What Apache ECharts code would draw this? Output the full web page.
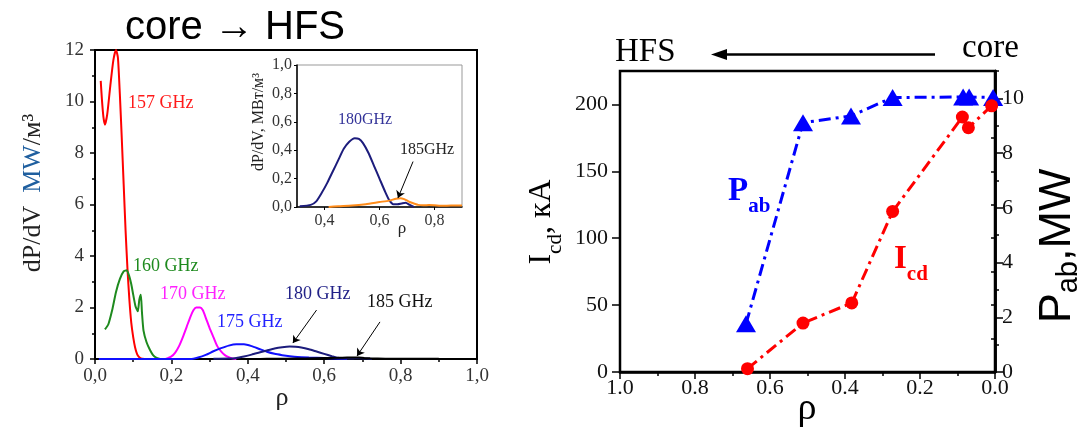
<!DOCTYPE html>
<html lang="en">
<head>
<meta charset="UTF-8">
<title>ECRH deposition profiles and current drive</title>
<script src="https://cdn.jsdelivr.net/npm/echarts@6/dist/echarts.min.js"></script>
<style>
    html, body { margin: 0; padding: 0; background: #fff; }
    #chart { width: 1086px; height: 430px; }
</style>
</head>
<body>
<div id="chart"></div>
<script>
// left panel: dP/dV profiles (MW/m3) vs rho, one pair of arrays per frequency
var rho157 = [0.015, 0.018, 0.022, 0.026, 0.032, 0.04, 0.048, 0.055, 0.06, 0.065, 0.07, 0.075, 0.08, 0.085, 0.09, 0.095, 0.1, 0.105, 0.11, 0.115, 0.12, 0.13];
var p157 = [10.8, 10.1, 9.4, 9.1, 9.5, 10.6, 11.6, 12.0, 11.7, 10.3, 8.6, 6.8, 5.0, 3.5, 2.3, 1.4, 0.85, 0.45, 0.2, 0.08, 0.02, 0];

var rho160 = [0.026, 0.035, 0.045, 0.055, 0.065, 0.075, 0.083, 0.09, 0.095, 0.1, 0.106, 0.112, 0.116, 0.12, 0.123, 0.127, 0.135, 0.144, 0.152, 0.16, 0.17];
var p160 = [1.15, 1.35, 1.9, 2.6, 3.1, 3.4, 3.45, 3.2, 2.9, 2.5, 2.05, 1.85, 2.3, 2.5, 1.8, 1.1, 0.65, 0.35, 0.15, 0.05, 0];

var rho170 = [0.185, 0.2, 0.21, 0.22, 0.23, 0.24, 0.25, 0.258, 0.265, 0.275, 0.282, 0.29, 0.3, 0.31, 0.32, 0.33, 0.34, 0.35, 0.36, 0.37];
var p170 = [0, 0.1, 0.25, 0.5, 0.85, 1.25, 1.65, 1.9, 2.0, 2.0, 1.9, 1.6, 1.2, 0.85, 0.5, 0.3, 0.15, 0.07, 0.02, 0];

var rho175 = [0.01, 0.25, 0.27, 0.29, 0.31, 0.33, 0.35, 0.37, 0.39, 0.41, 0.43, 0.45, 0.47, 0.49, 0.51, 0.53, 0.56, 0.6, 0.63, 0.66];
var p175 = [0, 0, 0.06, 0.16, 0.3, 0.42, 0.52, 0.57, 0.57, 0.5, 0.39, 0.28, 0.2, 0.15, 0.11, 0.08, 0.06, 0.04, 0.02, 0];

var rho180 = [0.31, 0.35, 0.37, 0.39, 0.41, 0.43, 0.45, 0.47, 0.49, 0.51, 0.525, 0.54, 0.56, 0.58, 0.6, 0.62, 0.635, 0.65, 0.665, 0.68, 0.695, 0.71, 0.725];
var p180 = [0.005, 0.015, 0.04, 0.1, 0.17, 0.25, 0.33, 0.41, 0.46, 0.485, 0.48, 0.45, 0.38, 0.29, 0.2, 0.11, 0.05, 0.02, 0.02, 0.025, 0.03, 0.015, 0];

var rho185 = [0.415, 0.45, 0.5, 0.55, 0.6, 0.635, 0.66, 0.676, 0.69, 0.705, 0.72, 0.74, 0.76, 0.78, 0.8, 0.83, 0.86, 0.9];
var p185 = [0, 0.005, 0.01, 0.02, 0.035, 0.045, 0.058, 0.062, 0.055, 0.04, 0.028, 0.015, 0.012, 0.014, 0.012, 0.008, 0.01, 0.01];

// right panel: absorbed power (MW) and driven current (kA) vs deposition rho
var rhoPab = [0.664, 0.512, 0.384, 0.273, 0.085, 0.069, 0.005];
var pab = [1.76, 9.11, 9.36, 10.03, 10.05, 10.05, 10.03];
var rhoIcd = [0.66, 0.512, 0.382, 0.273, 0.087, 0.071, 0.009];
var icd = [2.5, 36.6, 51.6, 120, 190.6, 182.6, 199];

// tick labels
var insetRhoTicks = [0.4, 0.6, 0.8];
var icdTicks = [0, 50, 100, 150, 200];
var pabTicks = [0, 2, 4, 6, 8, 10];

var SERIF = '"Liberation Serif", "DejaVu Serif", serif';
var SANS = '"Liberation Sans", Arial, sans-serif';

function pairs(xs, ys) {
    return xs.map(function (x, i) { return [x, ys[i]]; });
}
function comma(v) { return v.toFixed(1).replace('.', ','); }

function txt(x, y, text, size, color, extra) {
    var el = {
        type: 'text', x: x, y: y, z: 50,
        style: { text: text, fontSize: size, fontFamily: SERIF, fill: color, align: 'left', verticalAlign: 'middle' }
    };
    if (extra) {
        for (var k in extra) {
            if (k === 'style') { for (var s in extra.style) el.style[s] = extra.style[s]; }
            else el[k] = extra[k];
        }
    }
    return el;
}

var arrowLine = { symbol: ['none', 'arrow'], symbolSize: 7, silent: true, animation: false,
    label: { show: false }, lineStyle: { color: '#000', width: 1, type: 'solid' } };

function curve(name, xs, ys, color, xi, yi, mark) {
    var s = {
        name: name, type: 'line', xAxisIndex: xi, yAxisIndex: yi,
        data: pairs(xs, ys), showSymbol: false, smooth: 0.2, clip: true,
        lineStyle: { color: color, width: 2 }, itemStyle: { color: color }
    };
    if (mark) {
        var m = {};
        for (var k in arrowLine) m[k] = arrowLine[k];
        m.data = [[{ coord: mark[0] }, { coord: mark[1] }]];
        s.markLine = m;
    }
    return s;
}

var chart = echarts.init(document.getElementById('chart'));
var option = {
    animation: false,
    grid: [
        { left: 95, top: 50, width: 382, height: 309, show: true, borderColor: '#000', borderWidth: 2 },
        { left: 297, top: 65, width: 165, height: 142, show: true, borderColor: '#999', borderWidth: 1 },
        { left: 620, top: 71, width: 375, height: 301, show: true, borderColor: '#000', borderWidth: 2.5 }
    ],
    xAxis: [
        {
            gridIndex: 0, type: 'value', min: 0, max: 1, interval: 0.2,
            axisLine: { lineStyle: { color: '#000', width: 2 } },
            axisTick: { inside: false, length: 5, lineStyle: { color: '#000', width: 1.5 } },
            minorTick: { show: true, splitNumber: 2, length: 3, lineStyle: { color: '#000', width: 1.5 } },
            axisLabel: { formatter: comma, fontFamily: SERIF, fontSize: 19, color: '#333', margin: 8 },
            splitLine: { show: false }
        },
        {
            gridIndex: 1, type: 'value', min: 0.3, max: 0.9,
            axisLine: { lineStyle: { color: '#000', width: 1.5 } },
            axisTick: { customValues: insetRhoTicks, length: 3, lineStyle: { color: '#000' } },
            axisLabel: { customValues: insetRhoTicks, formatter: comma, fontFamily: SERIF, fontSize: 16, color: '#333', margin: 6 },
            splitLine: { show: false }
        },
        {
            gridIndex: 2, type: 'value', min: 0, max: 1, interval: 0.2, inverse: true,
            axisLine: { lineStyle: { color: '#000', width: 2.5 } },
            axisTick: { length: 7, lineStyle: { color: '#000', width: 1.5 } },
            minorTick: { show: true, splitNumber: 2, length: 4, lineStyle: { color: '#000', width: 1.5 } },
            axisLabel: { formatter: function (v) { return v.toFixed(1); }, fontFamily: SERIF, fontSize: 22, color: '#111', margin: 5 },
            splitLine: { show: false }
        }
    ],
    yAxis: [
        {
            gridIndex: 0, type: 'value', min: 0, max: 12, interval: 2,
            axisLine: { show: true, lineStyle: { color: '#000', width: 2 } },
            axisTick: { show: true, length: 5, lineStyle: { color: '#000', width: 1.5 } },
            minorTick: { show: true, splitNumber: 2, length: 3, lineStyle: { color: '#000', width: 1.5 } },
            axisLabel: { fontFamily: SERIF, fontSize: 19, color: '#333', margin: 11 },
            splitLine: { show: false }
        },
        {
            gridIndex: 1, type: 'value', min: 0, max: 1, interval: 0.2,
            axisLine: { show: true, lineStyle: { color: '#000', width: 1.5 } },
            axisTick: { show: true, length: 3, lineStyle: { color: '#000' } },
            axisLabel: { formatter: comma, fontFamily: SERIF, fontSize: 16, color: '#333', margin: 5 },
            splitLine: { show: false }
        },
        // right panel, left side: minor ticks every 25 kA
        {
            gridIndex: 2, type: 'value', min: 0, max: 225, interval: 25, position: 'left',
            axisLine: { show: true, lineStyle: { color: '#000', width: 2.5 } },
            axisTick: { show: true, length: 4, lineStyle: { color: '#000', width: 1.5 } },
            axisLabel: { show: false }, splitLine: { show: false }
        },
        // right panel, left side: labelled ticks
        {
            gridIndex: 2, type: 'value', min: 0, max: 225, position: 'left',
            axisLine: { show: false },
            axisTick: { show: true, customValues: icdTicks, length: 8, lineStyle: { color: '#000', width: 1.5 } },
            axisLabel: { customValues: icdTicks, fontFamily: SERIF, fontSize: 22, color: '#111', margin: 12 },
            splitLine: { show: false }
        },
        // right panel, right side: minor ticks every 1 MW
        {
            gridIndex: 2, type: 'value', min: 0, max: 11, interval: 1, position: 'right',
            axisLine: { show: true, lineStyle: { color: '#000', width: 2.5 } },
            axisTick: { show: true, length: 4, lineStyle: { color: '#000', width: 1.5 } },
            axisLabel: { show: false }, splitLine: { show: false }
        },
        {
            gridIndex: 2, type: 'value', min: 0, max: 11, position: 'right',
            axisLine: { show: false },
            axisTick: { show: true, customValues: pabTicks, length: 8, lineStyle: { color: '#000', width: 1.5 } },
            axisLabel: { customValues: pabTicks, fontFamily: SERIF, fontSize: 22, color: '#111', margin: 7 },
            splitLine: { show: false }
        }
    ],
    series: [
        curve('157 GHz', rho157, p157, '#ff0000', 0, 0),
        curve('160 GHz', rho160, p160, '#1e8a1e', 0, 0),
        curve('170 GHz', rho170, p170, '#ff00ff', 0, 0),
        curve('175 GHz', rho175, p175, '#1010ff', 0, 0),
        curve('180 GHz', rho180, p180, '#1c1c7c', 0, 0, [[0.58, 1.9], [0.518, 0.62]]),
        curve('185 GHz', rho185, p185, '#000000', 0, 0, [[0.746, 1.44], [0.686, 0.12]]),
        curve('180 GHz inset', rho180, p180, '#1c1c7c', 1, 1),
        curve('185 GHz inset', rho185, p185, '#ff8c1a', 1, 1, [[0.722, 0.32], [0.667, 0.063]]),
        {
            name: 'Pab', type: 'line', xAxisIndex: 2, yAxisIndex: 4,
            data: pairs(rhoPab, pab), symbol: 'triangle', symbolSize: [20, 17],
            lineStyle: { color: '#0000ff', width: 3, type: [12, 5, 3, 5] },
            itemStyle: { color: '#0000ff' }, z: 3
        },
        {
            name: 'Icd', type: 'line', xAxisIndex: 2, yAxisIndex: 2,
            data: pairs(rhoIcd, icd), symbol: 'circle', symbolSize: 13,
            lineStyle: { color: '#ff0000', width: 3, type: [12, 5, 3, 5] },
            itemStyle: { color: '#ff0000' }, z: 4
        }
    ],
    graphic: [
        // left panel texts
        txt(235, 28, 'core \u2192 HFS', 40, '#000', { style: { fontFamily: SANS, align: 'center' } }),
        txt(33, 193, '{a|dP/dV}  {b|MW}{a|/м³}', 26, '#222', {
            rotation: Math.PI / 2,
            style: { align: 'center', rich: {
                a: { fontFamily: SERIF, fontSize: 26, fill: '#222' },
                b: { fontFamily: SERIF, fontSize: 26, fill: '#1f5f9f' }
            } }
        }),
        txt(282, 398, 'ρ', 26, '#222', { style: { align: 'center' } }),
        txt(128, 103, '157 GHz', 18, '#ff1a1a'),
        txt(133, 266, '160 GHz', 18, '#1e8a1e'),
        txt(160, 294, '170 GHz', 18, '#ff22ff'),
        txt(217, 322, '175 GHz', 18, '#2222ff'),
        txt(285, 294, '180 GHz', 18, '#222288'),
        txt(367, 302, '185 GHz', 18, '#111'),
        // inset texts
        txt(338, 120, '180GHz', 16, '#333399'),
        txt(400, 150, '185GHz', 16, '#222'),
        txt(259, 122, 'dP/dV, MBт/м³', 16, '#222', { rotation: Math.PI / 2, style: { align: 'center' } }),
        txt(402, 229, 'ρ', 17, '#222', { style: { align: 'center' } }),
        // right panel header
        txt(615, 52, 'HFS', 33, '#000'),
        txt(962, 48, 'core', 33, '#000'),
        { type: 'line', z: 50, shape: { x1: 935, y1: 54.5, x2: 722, y2: 54.5 }, style: { stroke: '#000', lineWidth: 2.5 } },
        { type: 'polygon', z: 50, shape: { points: [[711, 54.5], [727, 49], [727, 60]] }, style: { fill: '#000' } },
        // right panel axis titles
        txt(542, 222, '{m|I}{s|cd}{m|, кА}', 32, '#000', {
            rotation: Math.PI / 2,
            style: { align: 'center', rich: {
                m: { fontFamily: SERIF, fontSize: 32, fill: '#000', lineHeight: 48, verticalAlign: 'middle' },
                s: { fontFamily: SERIF, fontSize: 21, fill: '#000', lineHeight: 48, verticalAlign: 'bottom' }
            } }
        }),
        txt(1058, 246, '{m|P}{s|ab}{m|,MW}', 45, '#000', {
            rotation: Math.PI / 2,
            style: { align: 'center', rich: {
                m: { fontFamily: SANS, fontSize: 45, fill: '#000', lineHeight: 50, verticalAlign: 'middle' },
                s: { fontFamily: SANS, fontSize: 29, fill: '#000', lineHeight: 50, verticalAlign: 'bottom' }
            } }
        }),
        txt(807, 409, 'ρ', 38, '#000', { style: { align: 'center' } }),
        // series labels
        txt(728, 191, '{m|P}{s|ab}', 33, '#0000ff', {
            style: { rich: {
                m: { fontFamily: SERIF, fontSize: 33, fontWeight: 'bold', fill: '#0000ff', lineHeight: 52, verticalAlign: 'middle' },
                s: { fontFamily: SERIF, fontSize: 21, fontWeight: 'bold', fill: '#0000ff', lineHeight: 52, verticalAlign: 'bottom' }
            } }
        }),
        txt(894, 259, '{m|I}{s|cd}', 33, '#ff0000', {
            style: { rich: {
                m: { fontFamily: SERIF, fontSize: 33, fontWeight: 'bold', fill: '#ff0000', lineHeight: 52, verticalAlign: 'middle' },
                s: { fontFamily: SERIF, fontSize: 21, fontWeight: 'bold', fill: '#ff0000', lineHeight: 52, verticalAlign: 'bottom' }
            } }
        })
    ]
};
chart.setOption(option);
</script>
</body>
</html>
